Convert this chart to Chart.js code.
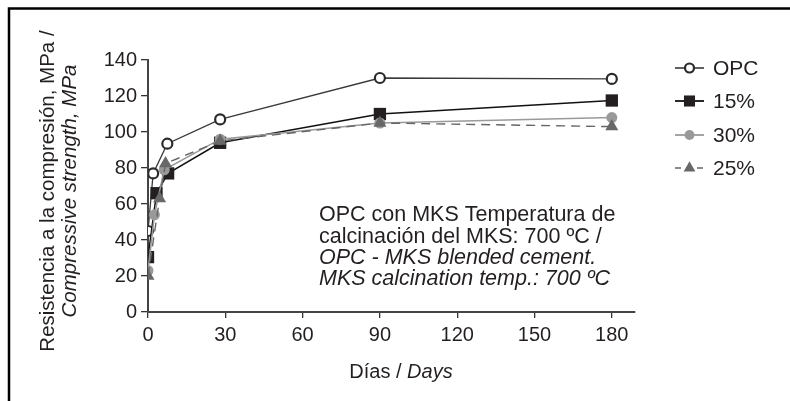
<!DOCTYPE html>
<html>
<head>
<meta charset="utf-8">
<script src="https://cdn.jsdelivr.net/npm/chart.js@4/dist/chart.umd.min.js"></script>
<style>
  html, body { margin: 0; padding: 0; background: #fff; }
  #wrap { width: 790px; height: 401px; }
</style>
</head>
<body>
<div id="wrap"><canvas id="chart" width="790" height="401"></canvas></div>
<script>
// series names and values (days, MPa)
const seriesNames = ['OPC', '15%', '30%', '25%'];
const daysOPC = [0, 2, 7.5, 28, 90, 180];
const strengthOPC = [45, 77, 93.5, 107, 130, 129.5];
const days15 = [0, 3.3, 7.8, 28, 90, 180];
const strength15 = [30.5, 66, 77, 94, 110, 117.5];
const days30 = [0, 2.5, 6.3, 28, 90, 180];
const strength30 = [23, 54, 79, 96, 105, 108];
const days25 = [0, 4.5, 6.8, 28, 90, 180];
const strength25 = [20, 63, 82.5, 95, 105, 103];

// tick labels
const xTicks = [0, 30, 60, 90, 120, 150, 180];
const yTicks = [0, 20, 40, 60, 80, 100, 120, 140];

const FONT = '"Liberation Sans", Arial, sans-serif';

function pts(xs, ys) {
    return xs.map((x, i) => ({ x: x, y: ys[i] }));
}

const datasets = [
    {
        label: seriesNames[0], data: pts(daysOPC, strengthOPC),
        borderColor: '#3a3a3a', borderWidth: 1.3,
        pointStyle: 'circle', pointRadius: 5, pointBorderWidth: 2.2,
        pointBackgroundColor: '#fff', pointBorderColor: '#2a2a2a', order: 4
    },
    {
        label: seriesNames[1], data: pts(days15, strength15),
        borderColor: '#111', borderWidth: 1.5,
        pointStyle: 'rect', pointRadius: 8.7, pointBorderWidth: 0,
        pointBackgroundColor: '#231f20', pointBorderColor: '#231f20', order: 3
    },
    {
        label: seriesNames[2], data: pts(days30, strength30),
        borderColor: '#9a9a9a', borderWidth: 1.5,
        pointStyle: 'circle', pointRadius: 5.5, pointBorderWidth: 0,
        pointBackgroundColor: '#999', pointBorderColor: '#999', order: 2
    },
    {
        label: seriesNames[3], data: pts(days25, strength25),
        borderColor: '#666', borderWidth: 1.4, borderDash: [9, 6],
        pointStyle: 'triangle', pointRadius: 7.5, pointBorderWidth: 0,
        pointBackgroundColor: '#686868', pointBorderColor: '#686868', order: 1
    }
];

function txt(ctx, parts, x, y, align) {
    // parts: [[text, italic, size], ...]
    let total = 0;
    parts.forEach(p => {
        ctx.font = (p[1] ? 'italic ' : '') + p[2] + 'px ' + FONT;
        total += ctx.measureText(p[0]).width;
    });
    let cx = align === 'center' ? x - total / 2 : x;
    ctx.textAlign = 'left';
    parts.forEach(p => {
        ctx.font = (p[1] ? 'italic ' : '') + p[2] + 'px ' + FONT;
        ctx.fillText(p[0], cx, y);
        cx += ctx.measureText(p[0]).width;
    });
}

const extras = {
    id: 'extras',
    afterDraw(chart) {
        const ctx = chart.ctx;
        ctx.save();
        // frame (top and left)
        ctx.strokeStyle = '#000';
        ctx.lineWidth = 2.5;
        ctx.beginPath();
        ctx.moveTo(9, 401);
        ctx.lineTo(9, 8.5);
        ctx.lineTo(790, 8.5);
        ctx.stroke();

        ctx.fillStyle = '#231f20';
        ctx.textBaseline = 'middle';

        // x title
        txt(ctx, [['Días / ', false, 20], ['Days', true, 20]], 401, 372, 'center');

        // y title
        ctx.save();
        ctx.translate(48, 191);
        ctx.rotate(-Math.PI / 2);
        txt(ctx, [['Resistencia a la compresión, MPa /', false, 20.5]], 0, 0, 'center');
        txt(ctx, [['Compressive strength, MPa', true, 20.5]], 0, 22, 'center');
        ctx.restore();

        // annotation
        const ax = 319;
        txt(ctx, [['OPC con MKS Temperatura de', false, 21.5]], ax, 215);
        txt(ctx, [['calcinación del MKS: 700 ºC /', false, 21.5]], ax, 237);
        txt(ctx, [['OPC - MKS blended cement.', true, 21.5]], ax, 258);
        txt(ctx, [['MKS calcination temp.: 700 ºC', true, 21.5]], ax, 279);

        // legend
        const rows = [68, 101, 135, 168];
        chart.data.datasets.forEach((ds, i) => {
            const y = rows[i];
            ctx.save();
            ctx.strokeStyle = ds.borderColor;
            ctx.lineWidth = ds.borderWidth + 0.3;
            ctx.setLineDash(ds.borderDash ? [6, 5] : []);
            ctx.beginPath();
            ctx.moveTo(675, y);
            ctx.lineTo(704, y);
            ctx.stroke();
            ctx.setLineDash([]);
            ctx.fillStyle = ds.pointBackgroundColor;
            ctx.strokeStyle = ds.pointBorderColor;
            ctx.lineWidth = ds.pointBorderWidth;
            Chart.helpers.drawPoint(ctx, {
                pointStyle: ds.pointStyle, radius: ds.pointRadius * 0.9,
                rotation: 0, borderWidth: ds.pointBorderWidth
            }, 689.5, y);
            ctx.restore();
            ctx.fillStyle = '#231f20';
            ctx.textBaseline = 'middle';
            txt(ctx, [[ds.label, false, 21]], 713, y + 1);
        });
        ctx.restore();
    }
};

new Chart(document.getElementById('chart'), {
    type: 'line',
    data: { datasets: datasets },
    options: {
        responsive: false,
        animation: false,
        events: [],
        layout: { padding: { left: 0, right: 155, top: 60, bottom: 0 } },
        elements: { line: { tension: 0, fill: false } },
        plugins: { legend: { display: false }, tooltip: { enabled: false }, title: { display: false } },
        scales: {
            x: {
                type: 'linear', min: 0, max: 189,
                afterBuildTicks: s => { s.ticks = xTicks.map(v => ({ value: v })); },
                afterFit: s => { s.height = 89; },
                grid: { drawOnChartArea: false, drawTicks: true, tickLength: 6, color: '#333', lineWidth: 1.3 },
                border: { display: true, color: '#444', width: 2 },
                ticks: { color: '#231f20', padding: 5, maxRotation: 0, font: { family: FONT, size: 20 } }
            },
            y: {
                type: 'linear', min: 0, max: 140,
                afterBuildTicks: s => { s.ticks = yTicks.map(v => ({ value: v })); },
                afterFit: s => { s.width = 148; },
                grid: { drawOnChartArea: false, drawTicks: true, tickLength: 7, color: '#333', lineWidth: 1.3 },
                border: { display: true, color: '#444', width: 2 },
                ticks: { color: '#231f20', padding: 4, font: { family: FONT, size: 20 } }
            }
        }
    },
    plugins: [extras]
});
</script>
</body>
</html>
